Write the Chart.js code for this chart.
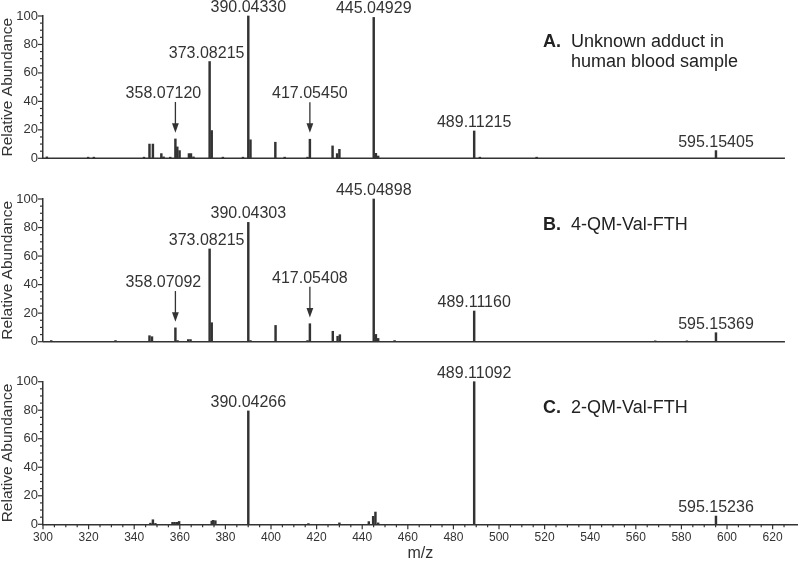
<!DOCTYPE html>
<html>
<head>
<meta charset="utf-8">
<script src="https://cdn.jsdelivr.net/npm/chart.js@4.4.0/dist/chart.umd.min.js"></script>
<style>
    body { margin: 0; background: #fff; width: 800px; height: 563px; position: relative; overflow: hidden; }
    canvas { position: absolute; left: 0; }
</style>
</head>
<body>
<canvas id="panelA" width="800" height="170" style="top:0px"></canvas>
<canvas id="panelB" width="800" height="180" style="top:180px"></canvas>
<canvas id="panelC" width="800" height="203" style="top:360px"></canvas>
<script>
// Spectrum A: unknown adduct in human blood sample
const mzA = [301.7, 319.8, 322.3, 344.3, 346.7, 348.2, 351.9, 352.9, 355.8, 358.07, 358.9, 359.9, 364.0, 364.9, 366.0,
    373.08, 374.0, 378.9, 387.7, 390.04, 391.0, 401.9, 406.0, 416.0, 417.05, 427.0, 429.0, 430.0, 445.05, 446.0, 447.0,
    489.11, 491.6, 516.5, 595.15];
const intA = [1, 0.8, 0.8, 0.8, 10, 10, 3.3, 1, 0.8, 13.6, 8, 5.4, 3.3, 3.3, 1,
    68, 19.5, 0.8, 0.8, 100, 13, 11.3, 0.8, 0.8, 13.4, 8.7, 3.3, 6.3, 99, 3.5, 1.6,
    19.2, 0.8, 0.8, 5.4];
const peakMzA = [358.0712, 373.08215, 390.0433, 417.0545, 445.04929, 489.11215, 595.15405];
const peakTextA = ["358.07120", "373.08215", "390.04330", "417.05450", "445.04929", "489.11215", "595.15405"];
const arrowMzA = [358.0712, 417.0545];
const arrowFromA = [39.6, 39.4];
const arrowToA = [18, 18];

// Spectrum B: 4-QM-Val-FTH
const mzB = [303.6, 331.8, 346.7, 347.8, 358.07, 359.0, 363.7, 364.7, 373.08, 374.0, 390.04, 391.0, 402.0, 416.0,
    417.05, 427.1, 429.2, 430.2, 445.05, 446.0, 447.0, 454.2, 489.11, 568.5, 582.4, 595.15];
const intB = [0.8, 0.8, 4.2, 3.5, 9.7, 0.8, 1.5, 1.5, 65, 13.3, 83.6, 0.8, 11.4, 0.8,
    12.6, 7.3, 3.8, 4.9, 100, 5.1, 2.3, 0.8, 21.5, 0.6, 0.6, 6.3];
const peakMzB = [358.07092, 373.08215, 390.04303, 417.05408, 445.04898, 489.1116, 595.15369];
const peakTextB = ["358.07092", "373.08215", "390.04303", "417.05408", "445.04898", "489.11160", "595.15369"];
const arrowMzB = [358.07092, 417.05408];
const arrowFromB = [35.5, 38.5];
const arrowToB = [14, 17];

// Spectrum C: 2-QM-Val-FTH
const mzC = [347.1, 348.2, 349.3, 356.8, 357.7, 358.7, 359.7, 374.0, 374.6, 375.6, 390.04, 416.4, 430.0,
    442.9, 444.8, 445.8, 447.0, 489.11, 595.15];
const intC = [0.8, 3.2, 0.6, 1.4, 1.4, 1.4, 2, 2.2, 2.8, 2.5, 79.5, 0.5, 1,
    1.9, 5.6, 8.6, 1, 100, 5.8];
const peakMzC = [390.04266, 489.11092, 595.15236];
const peakTextC = ["390.04266", "489.11092", "595.15236"];

const scanEnd = 625.4;
const xMin = 300;
const xMax = 631;

const FONT = "'Liberation Sans', Arial, Helvetica, sans-serif";
const INK = "#333";

// label nudges (px) where the original sets the text off-centre
const labelNudge = { "358.07120": -12, "358.07092": -12, "373.08215": -3 };

// minor/major tick marks, peak labels, arrows and panel captions
const spectrumDecor = {
    id: "spectrumDecor",
    afterDraw(chart) {
        const ctx = chart.ctx;
        const cfg = chart.options.plugins.spectrumDecor;
        const xs = chart.scales.x;
        const ys = chart.scales.y;
        ctx.save();
        ctx.strokeStyle = INK;
        ctx.fillStyle = INK;
        ctx.lineWidth = 1.2;

        ys.ticks.forEach((t) => {
            if (t.value % 5 !== 0) return;
            const len = t.value % 20 === 0 ? 5 : 3;
            const p = ys.getPixelForValue(t.value);
            ctx.beginPath();
            ctx.moveTo(ys.right - len, p);
            ctx.lineTo(ys.right, p);
            ctx.stroke();
        });
        if (xs.options.display) {
            xs.ticks.forEach((t) => {
                if (t.value % 5 !== 0) return;
                const len = t.value % 20 === 0 ? 5 : 3;
                const p = xs.getPixelForValue(t.value);
                ctx.beginPath();
                ctx.moveTo(p, xs.top);
                ctx.lineTo(p, xs.top + len);
                ctx.stroke();
            });
        }

        // arrows
        cfg.arrowMz.forEach((m, i) => {
            const x = xs.getPixelForValue(m);
            const y0 = ys.getPixelForValue(cfg.arrowFrom[i]);
            const y1 = ys.getPixelForValue(cfg.arrowTo[i]);
            ctx.lineWidth = 1.3;
            ctx.beginPath();
            ctx.moveTo(x, y0);
            ctx.lineTo(x, y1 - 8);
            ctx.stroke();
            ctx.beginPath();
            ctx.moveTo(x - 3.4, y1 - 9.5);
            ctx.lineTo(x + 3.4, y1 - 9.5);
            ctx.lineTo(x, y1);
            ctx.closePath();
            ctx.fill();
        });

        // peak labels
        ctx.font = "16px " + FONT;
        ctx.textAlign = "center";
        ctx.textBaseline = "alphabetic";
        cfg.peakMz.forEach((m, i) => {
            let top = 0;
            cfg.mz.forEach((v, j) => { if (Math.abs(v - m) < 0.05) top = Math.max(top, cfg.intensity[j]); });
            const ai = cfg.arrowMz.findIndex((a) => Math.abs(a - m) < 0.05);
            if (ai >= 0) top = cfg.arrowFrom[ai];
            const text = cfg.peakText[i];
            const x = xs.getPixelForValue(m) + (labelNudge[text] || 0);
            ctx.fillText(text, x, ys.getPixelForValue(top) - 4);
        });

        // panel caption
        const cx = 543;
        let cy = chart.chartArea.top + 26;
        ctx.textAlign = "left";
        ctx.textBaseline = "middle";
        ctx.font = "bold 18px " + FONT;
        ctx.fillStyle = "#222";
        ctx.fillText(cfg.tag, cx, cy);
        ctx.font = "18px " + FONT;
        cfg.caption.forEach((line) => {
            ctx.fillText(line, cx + 28, cy);
            cy += 20;
        });
        ctx.restore();
    }
};

function makeSpectrum(canvasId, mz, intensity, peaks, showAxis, pad) {
    const datasets = [{
        type: "bar",
        data: mz.map((m, i) => ({ x: m, y: intensity[i] })),
        backgroundColor: INK,
        barThickness: 1.8,
        clip: false,
        order: 1,
    }];
    if (!showAxis) {
        datasets.push({
            type: "line",
            data: [{ x: xMin, y: 0 }, { x: scanEnd, y: 0 }],
            borderColor: INK,
            borderWidth: 1.5,
            pointRadius: 0,
            clip: false,
            order: 2,
        });
    }
    return new Chart(document.getElementById(canvasId), {
        type: "bar",
        data: { datasets },
        options: {
            responsive: false,
            animation: false,
            layout: { padding: pad },
            plugins: {
                legend: { display: false },
                tooltip: { enabled: false },
                spectrumDecor: Object.assign({ mz, intensity }, peaks),
            },
            scales: {
                x: {
                    type: "linear",
                    min: xMin,
                    max: xMax,
                    offset: false,
                    display: showAxis,
                    afterFit: (s) => { if (showAxis) s.height = 38.7; },
                    ticks: {
                        stepSize: 5,
                        autoSkip: false,
                        maxRotation: 0,
                        padding: 1,
                        color: INK,
                        font: { size: 12, family: FONT },
                        callback: (v) => (v % 20 === 0 ? v : ""),
                    },
                    grid: { display: false, drawTicks: true, tickLength: 5, offset: false },
                    border: { display: true, color: INK, width: 1.5 },
                    title: {
                        display: true,
                        text: "m/z",
                        color: INK,
                        padding: 0,
                        font: { size: 16, family: FONT, lineHeight: 1.2 },
                    },
                },
                y: {
                    min: 0,
                    max: 100,
                    afterFit: (s) => { s.width = 43; },
                    ticks: {
                        stepSize: 5,
                        autoSkip: false,
                        padding: 0,
                        color: INK,
                        font: { size: 13, family: FONT },
                        callback: (v) => (v % 20 === 0 ? v : ""),
                    },
                    grid: { display: false, drawTicks: true, tickLength: 5 },
                    border: { display: true, color: INK, width: 1.5 },
                    title: {
                        display: true,
                        text: "Relative Abundance",
                        color: INK,
                        padding: 0,
                        font: { size: 15.5, family: FONT, lineHeight: 1 },
                    },
                },
            },
        },
        plugins: [spectrumDecor],
    });
}

makeSpectrum("panelA", mzA, intA, {
    peakMz: peakMzA, peakText: peakTextA,
    arrowMz: arrowMzA, arrowFrom: arrowFromA, arrowTo: arrowToA,
    tag: "A.", caption: ["Unknown adduct in", "human blood sample"],
}, false, { top: 16, bottom: 11.7, left: 0, right: 2.3 });

makeSpectrum("panelB", mzB, intB, {
    peakMz: peakMzB, peakText: peakTextB,
    arrowMz: arrowMzB, arrowFrom: arrowFromB, arrowTo: arrowToB,
    tag: "B.", caption: ["4-QM-Val-FTH"],
}, false, { top: 19, bottom: 18.3, left: 0, right: 2.3 });

makeSpectrum("panelC", mzC, intC, {
    peakMz: peakMzC, peakText: peakTextC,
    arrowMz: [], arrowFrom: [], arrowTo: [],
    tag: "C.", caption: ["2-QM-Val-FTH"],
}, true, { top: 21.7, bottom: 0, left: 0, right: 2.3 });
</script>
</body>
</html>
